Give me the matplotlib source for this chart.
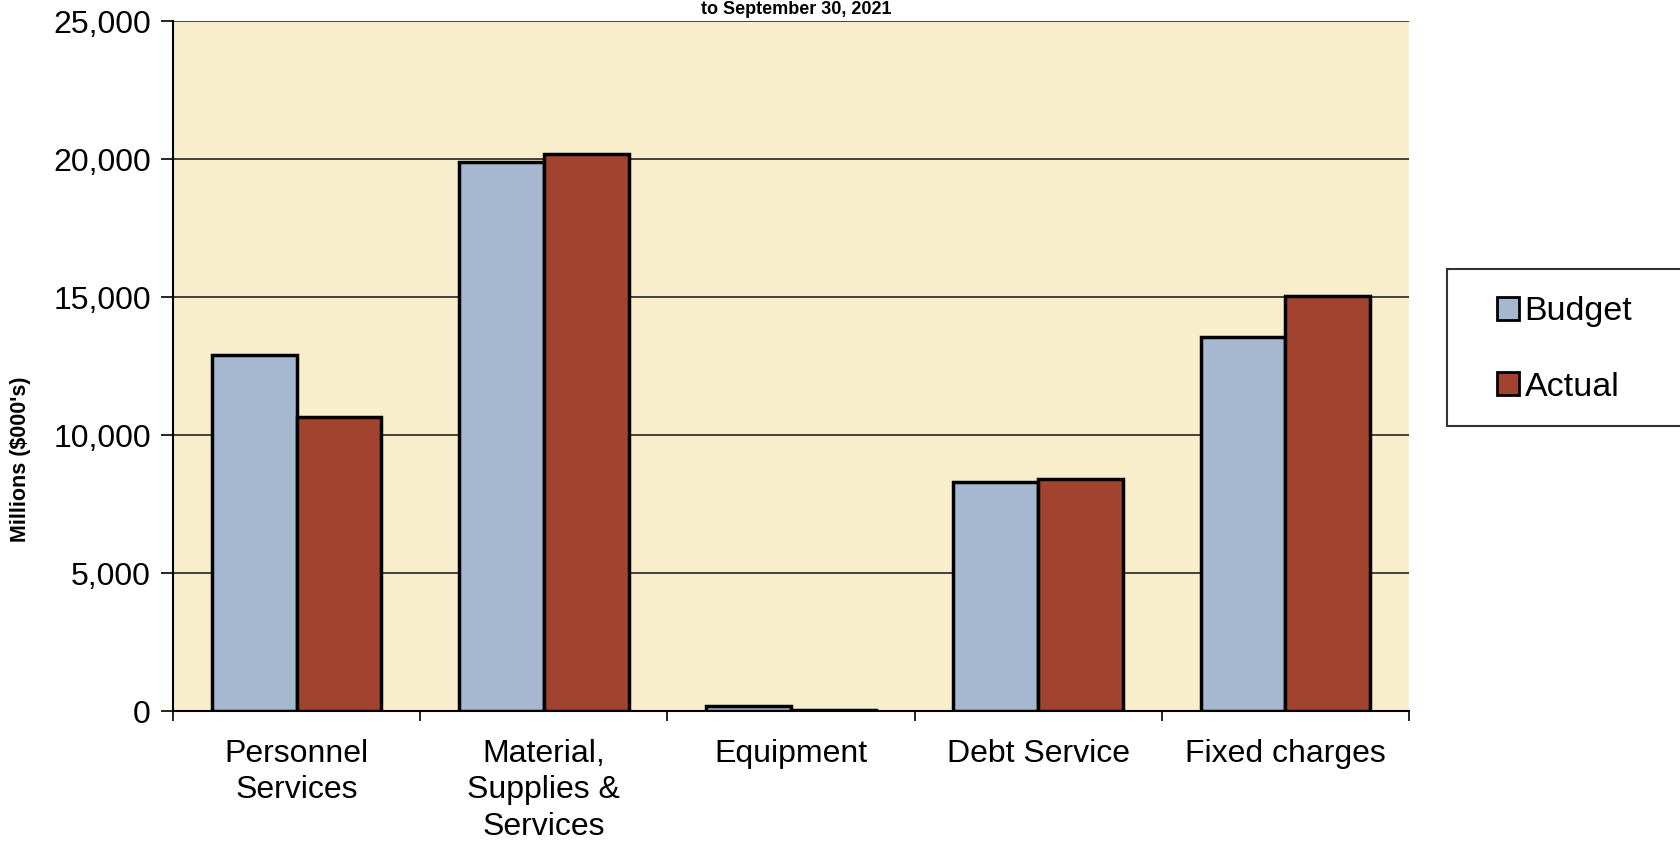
import numpy as np
import matplotlib
matplotlib.use("Agg")
import matplotlib.pyplot as plt
from matplotlib.patches import Rectangle
from matplotlib.ticker import FuncFormatter

# values (thousands of dollars)
categories = ["Personnel\nServices", "Material,\nSupplies &\nServices",
              "Equipment", "Debt Service", "Fixed charges"]
budget = [12900, 19900, 180, 8300, 13550]
actual = [10650, 20200, 30, 8420, 15050]
series_names = ["Budget", "Actual"]
y_ticks = [0, 5000, 10000, 15000, 20000, 25000]

plt.rcParams['font.family'] = ['Liberation Sans', 'DejaVu Sans']

budget_color = "#a5b8cf"
actual_color = "#a2432f"
plot_bg = "#f9eecb"

fig = plt.figure(figsize=(16.8, 8.49), dpi=100)
ax = fig.add_axes([0.103, 0.1625, 0.7357, 0.8123])
ax.set_facecolor(plot_bg)

x = np.arange(len(categories))
w = 0.343
ax.bar(x - w/2, budget, w, color=budget_color, edgecolor="black", linewidth=2.5,
       label=series_names[0], zorder=3)
ax.bar(x + w/2, actual, w, color=actual_color, edgecolor="black", linewidth=2.5,
       label=series_names[1], zorder=3)

ax.set_xlim(-0.5, len(categories) - 0.5)
ax.set_ylim(0, 25000)
ax.set_yticks(y_ticks)
ax.yaxis.set_major_formatter(FuncFormatter(lambda v, p: f"{int(v):,}"))
ax.yaxis.grid(True, color="#333333", linewidth=1.3, zorder=1)

ax.set_xticks(x)
ax.set_xticklabels(categories, fontsize=23, linespacing=1.29)
ax.set_xticks(np.arange(-0.5, len(categories)), minor=True)
ax.tick_params(axis="x", which="major", length=0, pad=20)
ax.tick_params(axis="x", which="minor", length=7, width=1.2, direction="out")
ax.tick_params(axis="y", labelsize=23, length=9, width=1.2, pad=7)

for s in ["top", "right"]:
    ax.spines[s].set_visible(False)
ax.spines["left"].set_linewidth(1.5)
ax.spines["bottom"].set_linewidth(1.5)

ax.set_ylabel("Millions ($000's)", fontsize=15.5, fontweight="bold")
ax.yaxis.set_label_coords(-0.115, 0.365)

# title is mostly cut off in the scan; keep it small so it fits above the plot
fig.text(0.474, 0.999, "to September 30, 2021", ha="center", va="top",
         fontsize=13, fontweight="bold")

# legend box running off the right edge
fig.patches.append(Rectangle((0.8613, 0.4982), 0.16, 0.185, transform=fig.transFigure,
                             facecolor="white", edgecolor="#333333", linewidth=1.5))
leg = fig.legend(loc="upper left", bbox_to_anchor=(0.881, 0.671), frameon=False,
                 fontsize=24.5, borderpad=0, handlelength=0.63, handleheight=0.63,
                 handletextpad=0.18, labelspacing=1.3)
for h in leg.legend_handles:
    h.set_linewidth(2)

fig.savefig("out.png", dpi=100, facecolor="white")
